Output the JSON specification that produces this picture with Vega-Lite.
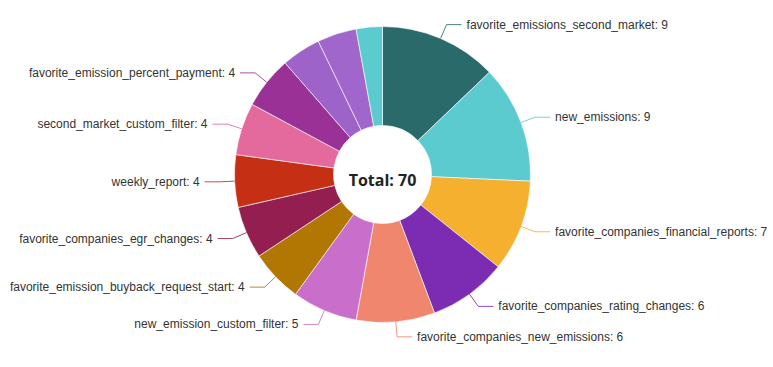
{
  "$schema": "https://vega.github.io/schema/vega-lite/v6.json",
  "width": 765,
  "height": 349,
  "padding": {"left": 0, "top": 0, "right": 8, "bottom": 18},
  "autosize": {"type": "none"},
  "background": "#ffffff",
  "config": {"view": {"stroke": null}},
  "data": {
    "values": [
      {"name": "favorite_emissions_second_market", "value": 9},
      {"name": "new_emissions", "value": 9},
      {"name": "favorite_companies_financial_reports", "value": 7},
      {"name": "favorite_companies_rating_changes", "value": 6},
      {"name": "favorite_companies_new_emissions", "value": 6},
      {"name": "new_emission_custom_filter", "value": 5},
      {"name": "favorite_emission_buyback_request_start", "value": 4},
      {"name": "favorite_companies_egr_changes", "value": 4},
      {"name": "weekly_report", "value": 4},
      {"name": "second_market_custom_filter", "value": 4},
      {"name": "favorite_emission_percent_payment", "value": 4},
      {"name": "other_filter_a", "value": 3},
      {"name": "other_filter_b", "value": 3},
      {"name": "other_filter_c", "value": 2}
    ]
  },
  "transform": [
    {"window": [{"op": "row_number", "as": "idx"}]},
    {"window": [{"op": "sum", "field": "value", "as": "cum"}], "sort": [{"field": "idx"}], "frame": [null, 0]},
    {"joinaggregate": [{"op": "sum", "field": "value", "as": "total"}]},
    {"calculate": "(datum.cum - datum.value / 2) / datum.total * 2 * PI", "as": "mid"},
    {"calculate": "sin(datum.mid) >= 0 ? 1 : -1", "as": "side"},
    {"calculate": "sin(datum.mid)", "as": "x0"},
    {"calculate": "cos(datum.mid)", "as": "y0"},
    {"calculate": "sin(datum.mid) * 163 / 148", "as": "x1"},
    {"calculate": "cos(datum.mid) * 163 / 148", "as": "y1"},
    {"calculate": "datum.x1 + datum.side * 15 / 148", "as": "x2"},
    {"calculate": "datum.x1 + datum.side * 20 / 148", "as": "lx"},
    {"calculate": "datum.name + ': ' + datum.value", "as": "label"}
  ],
  "resolve": {"scale": {"x": "shared", "y": "shared"}},
  "layer": [
    {
      "mark": {"type": "arc", "outerRadius": 148, "innerRadius": 49, "stroke": "#ffffff", "strokeWidth": 0.6},
      "encoding": {
        "theta": {"field": "value", "type": "quantitative", "stack": true},
        "order": {"field": "idx", "type": "quantitative"},
        "color": {
          "field": "name",
          "type": "nominal",
          "legend": null,
          "sort": null,
          "scale": {
            "domain": ["favorite_emissions_second_market", "new_emissions", "favorite_companies_financial_reports", "favorite_companies_rating_changes", "favorite_companies_new_emissions", "new_emission_custom_filter", "favorite_emission_buyback_request_start", "favorite_companies_egr_changes", "weekly_report", "second_market_custom_filter", "favorite_emission_percent_payment", "other_filter_a", "other_filter_b", "other_filter_c"],
            "range": ["#2b6a6b", "#5ccbd0", "#f4b02e", "#7b2cb3", "#f0866e", "#c96fcb", "#b27602", "#931e4f", "#c52f13", "#e46a9e", "#9a3196", "#9d63c9", "#a066cc", "#5ccbd0"]
          }
        }
      }
    },
    {
      "transform": [{"filter": "datum.value >= 4"}],
      "mark": {"type": "rule", "strokeWidth": 1, "opacity": 0.85},
      "encoding": {
        "x": {"field": "x0", "type": "quantitative", "axis": null, "scale": {"domain": [-2.5845, 2.5845], "nice": false, "zero": false}},
        "y": {"field": "y0", "type": "quantitative", "axis": null, "scale": {"domain": [-1.1791, 1.1791], "nice": false, "zero": false}},
        "x2": {"field": "x1"},
        "y2": {"field": "y1"},
        "color": {"field": "name", "type": "nominal", "legend": null}
      }
    },
    {
      "transform": [{"filter": "datum.value >= 4"}],
      "mark": {"type": "rule", "strokeWidth": 1, "opacity": 0.85},
      "encoding": {
        "x": {"field": "x1", "type": "quantitative"},
        "y": {"field": "y1", "type": "quantitative"},
        "x2": {"field": "x2"},
        "y2": {"field": "y1"},
        "color": {"field": "name", "type": "nominal", "legend": null}
      }
    },
    {
      "transform": [{"filter": "datum.value >= 4 && datum.side > 0"}],
      "mark": {"type": "text", "align": "left", "baseline": "middle", "font": "Liberation Sans", "fontSize": 12, "color": "#333333"},
      "encoding": {
        "x": {"field": "lx", "type": "quantitative"},
        "y": {"field": "y1", "type": "quantitative"},
        "text": {"field": "label"}
      }
    },
    {
      "transform": [{"filter": "datum.value >= 4 && datum.side < 0"}],
      "mark": {"type": "text", "align": "right", "baseline": "middle", "font": "Liberation Sans", "fontSize": 12, "color": "#333333"},
      "encoding": {
        "x": {"field": "lx", "type": "quantitative"},
        "y": {"field": "y1", "type": "quantitative"},
        "text": {"field": "label"}
      }
    },
    {
      "transform": [{"filter": "datum.idx == 1"}, {"calculate": "'Total: ' + datum.total", "as": "ttl"}],
      "mark": {"type": "text", "align": "center", "baseline": "middle", "dy": 6, "font": "Open Sans", "fontWeight": "bold", "fontSize": 16, "color": "#222222"},
      "encoding": {
        "x": {"datum": 0, "type": "quantitative"},
        "y": {"datum": 0, "type": "quantitative"},
        "text": {"field": "ttl"}
      }
    }
  ]
}
